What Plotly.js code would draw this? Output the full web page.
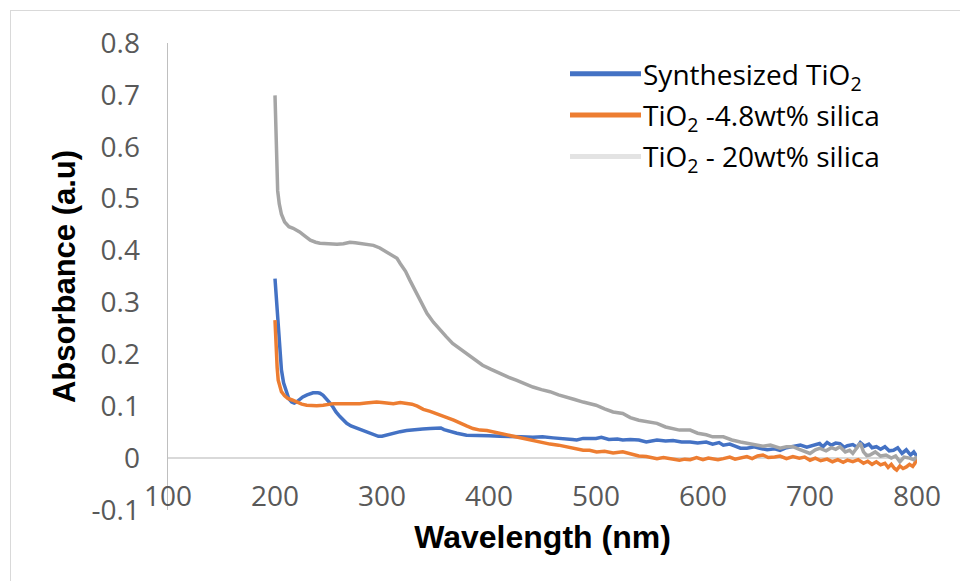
<!DOCTYPE html>
<html>
<head>
<meta charset="utf-8">
<script src="https://cdn.plot.ly/plotly-3.0.1.min.js"></script>
<style>
  html, body { margin: 0; padding: 0; background: #ffffff; }
  #frame { position: absolute; left: 10px; top: 10px; width: 960px; height: 581px; border: 1.5px solid #d9d9d9; box-sizing: border-box; }
  #chart { position: absolute; left: 0; top: 0; width: 960px; height: 581px; }
</style>
</head>
<body>
<div id="frame"></div>
<div id="chart"></div>
<script>
// Synthesized TiO2
const wlPure = [200,201.5,203,204.5,206,208,211,213,215.6,218,220,223,226,230,235.6,240,242,245,248,251,254,257,260.7,264,267,271,276,281,285.7,291,296.6,300,305,310.6,317,323,330,338,345,351,355,358,363.6,370,379,390,400,410,420,430,441,450,460,472,478,482,488,494,500,505,512,520,525,532,540,547,557,565,572,580,588,595,603,609,615,619,625,630,635,641,648,653,660,667,672,678,684,691,697,703,709,712,716,720,724,728,732,735,740,744,747,751,755,758,762,766,770,774,778,782,786,790,794,797,800];
const absPure = [0.346,0.300,0.253,0.210,0.170,0.145,0.125,0.114,0.108,0.106,0.108,0.113,0.118,0.122,0.126,0.126,0.125,0.121,0.115,0.107,0.099,0.089,0.080,0.072,0.067,0.062,0.058,0.055,0.051,0.046,0.042,0.042,0.045,0.048,0.051,0.053,0.055,0.056,0.057,0.057,0.058,0.055,0.051,0.048,0.044,0.044,0.043,0.042,0.042,0.041,0.040,0.041,0.039,0.038,0.036,0.035,0.038,0.038,0.038,0.040,0.036,0.037,0.035,0.036,0.035,0.031,0.035,0.033,0.034,0.031,0.031,0.029,0.031,0.027,0.030,0.025,0.027,0.023,0.019,0.019,0.022,0.019,0.016,0.018,0.015,0.020,0.022,0.025,0.021,0.025,0.028,0.022,0.030,0.025,0.029,0.028,0.021,0.024,0.026,0.021,0.030,0.023,0.027,0.020,0.022,0.017,0.022,0.014,0.015,0.020,0.009,0.016,0.006,0.012,0.003];

// TiO2 - 4.8wt% silica
const wlLow = [200,200.5,201,202,203,204.5,206,209,212,216,220,225,229.6,235,239,245,250,254.5,261,267,273,279,285,290,295,300,305,310.6,317,323,328,333,338.6,345,354,362,367,373,379,385,391.6,398,405,410,418,426,433,441,449,457,465,472.6,480,488,494,500.6,508,516,525,532,540,547,552,557,563,570,578,583,588,594,600,605,609,614,619,625,630,635,641,646,651,656,661,667,672,678,684,690,695,700,705,710,716,721,726,731,735,740,745,750,754,758,762,766,770,773,776,779,781,784,787,790,793,796,798,800];
const absLow = [0.266,0.230,0.202,0.175,0.150,0.137,0.128,0.120,0.115,0.112,0.108,0.104,0.102,0.101,0.101,0.102,0.104,0.105,0.105,0.105,0.104,0.105,0.106,0.107,0.108,0.107,0.106,0.105,0.107,0.105,0.104,0.100,0.094,0.090,0.084,0.077,0.073,0.067,0.062,0.057,0.054,0.053,0.050,0.048,0.044,0.040,0.038,0.035,0.031,0.027,0.025,0.022,0.019,0.015,0.015,0.012,0.013,0.010,0.012,0.008,0.004,0.003,0.001,-0.001,0.001,-0.002,-0.004,-0.002,-0.003,0.001,-0.003,0.000,-0.001,-0.003,-0.001,0.002,-0.002,0.001,0.003,-0.001,0.004,0.006,0.001,0.002,0.004,-0.001,0.003,0.000,0.002,-0.004,0.000,-0.005,-0.002,-0.007,-0.003,-0.008,-0.004,-0.007,-0.003,-0.010,-0.006,-0.012,-0.007,-0.013,-0.010,-0.018,-0.012,-0.020,-0.023,-0.015,-0.020,-0.017,-0.012,-0.016,-0.010,0.000];

// TiO2 - 20wt% silica
const wlHigh = [200,200.5,201,201.5,202.5,204,206,209,213,217,220,223,228,233,238,242,250,258,264,270,275,279,285,292,298,304,310,314,317,322,326,332,337,342,348,354,360,366,372,379,386,394,402,410,418,426,434,441,449,457,465,473,480,488,494,500,508,516,525,532,540,547,557,565,572,578,588,595,603,609,619,627,635,641,648,656,663,672,678,684,690,695,700,705,709,715,720,724,728,733,737,740,744,747,750,753,756,761,766,771,776,780,784,788,793,797,800];
const absHigh = [0.699,0.645,0.595,0.549,0.515,0.490,0.470,0.455,0.446,0.443,0.440,0.436,0.428,0.420,0.416,0.414,0.413,0.412,0.413,0.416,0.415,0.414,0.412,0.410,0.405,0.397,0.390,0.385,0.375,0.360,0.343,0.318,0.298,0.279,0.262,0.247,0.234,0.221,0.212,0.202,0.191,0.179,0.171,0.163,0.156,0.150,0.143,0.137,0.132,0.128,0.122,0.118,0.113,0.108,0.105,0.102,0.095,0.089,0.086,0.078,0.073,0.070,0.067,0.060,0.057,0.054,0.054,0.048,0.045,0.041,0.041,0.035,0.031,0.029,0.027,0.023,0.025,0.019,0.022,0.022,0.017,0.013,0.009,0.016,0.019,0.014,0.020,0.017,0.022,0.012,0.015,0.009,0.020,0.029,0.012,0.005,0.006,0.012,0.004,0.006,0.000,0.004,-0.007,0.002,0.000,-0.003,0.003];

const seriesNames = ["Synthesized TiO<sub>2</sub>", "TiO<sub>2</sub> -4.8wt% silica", "TiO<sub>2</sub> - 20wt% silica"];
const xTicks = [100,200,300,400,500,600,700,800];
const yTicks = [-0.1,0,0.1,0.2,0.3,0.4,0.5,0.6,0.7,0.8];
const yTickText = ["-0.1","0","0.1","0.2","0.3","0.4","0.5","0.6","0.7","0.8"];

const traces = [
  {x: wlPure, y: absPure, name: seriesNames[0], type: 'scatter', mode: 'lines', legendgroup: 'g1',
   line: {color: '#4472C4', width: 3.5}, hoverinfo: 'skip'},
  {x: wlLow, y: absLow, name: seriesNames[1], type: 'scatter', mode: 'lines', legendgroup: 'g2',
   line: {color: '#ED7D31', width: 3.5}, hoverinfo: 'skip'},
  {x: wlHigh, y: absHigh, name: seriesNames[2], type: 'scatter', mode: 'lines', legendgroup: 'g3',
   line: {color: '#A5A5A5', width: 3.5}, showlegend: false, hoverinfo: 'skip'},
  {x: [null], y: [null], name: seriesNames[2], type: 'scatter', mode: 'lines', legendgroup: 'g3',
   line: {color: '#E3E3E3', width: 5}, hoverinfo: 'skip'}
];

const plotL = 168, plotR = 43, plotT = 43, plotB = 71;
const plotW = 960 - plotL - plotR, plotH = 581 - plotT - plotB;
const layout = {
  width: 960, height: 581,
  margin: {l: plotL, r: plotR, t: plotT, b: plotB, pad: 0, autoexpand: false},
  paper_bgcolor: 'rgba(0,0,0,0)', plot_bgcolor: 'rgba(0,0,0,0)',
  showlegend: true,
  legend: {x: (557 - plotL) / plotW, y: (581 - plotB - 49) / plotH,
           yanchor: 'top', xanchor: 'left', traceorder: 'grouped', tracegroupgap: 2,
           font: {family: 'Open Sans, sans-serif', size: 28, color: '#000000'},
           bgcolor: 'rgba(0,0,0,0)', itemwidth: 76},
  xaxis: {
    range: [100, 800], tickvals: xTicks, ticktext: xTicks.map(String),
    showgrid: false, zeroline: false, showline: false, ticks: '',
    ticklabelposition: 'inside', ticklabeloverflow: 'allow',
    tickfont: {family: 'Open Sans, sans-serif', size: 28, color: '#595959'},
    title: {text: 'Wavelength (nm)', standoff: 17,
            font: {family: 'Liberation Sans, Arial, sans-serif', size: 32, color: '#000000', weight: 'bold'}}
  },
  yaxis: {
    range: [-0.1, 0.8], tickvals: yTicks, ticktext: yTickText,
    showgrid: false, zeroline: true, zerolinecolor: '#D9D9D9', zerolinewidth: 1.5,
    showline: true, linecolor: '#BFBFBF', linewidth: 1.5, ticks: '',
    ticklabelstandoff: 21,
    tickfont: {family: 'Open Sans, sans-serif', size: 28, color: '#595959'},
    title: {text: 'Absorbance (a.u)', standoff: 6,
            font: {family: 'Liberation Sans, Arial, sans-serif', size: 31, color: '#000000', weight: 'bold'}}
  }
};

Plotly.newPlot('chart', traces, layout, {staticPlot: true, displayModeBar: false}).then(function (gd) {
  // longer, thicker legend swatches like the original
  gd.querySelectorAll('.legend .traces path.js-line').forEach(function (p) {
    p.setAttribute('d', 'M13,0h71');
    p.style.strokeWidth = '5px';
  });
  // nudge inside x tick labels down to sit just above the -0.1 level
  gd.querySelectorAll('.xaxislayer-above').forEach(function (g) {
    g.setAttribute('transform', 'translate(0,5)');
  });
});
</script>
</body>
</html>
